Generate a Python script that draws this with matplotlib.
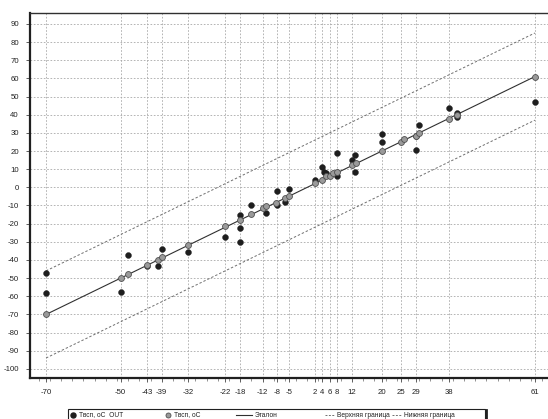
import matplotlib
matplotlib.use("Agg")
import matplotlib.pyplot as plt
from matplotlib.lines import Line2D
from matplotlib.patches import Rectangle
from matplotlib.ticker import MultipleLocator

plt.rcParams["font.family"] = ["Liberation Sans", "DejaVu Sans"]

# ---- data ----
x_ticks = [-70, -50, -43, -39, -32, -22, -18, -12, -8, -5, 2, 4, 6, 8, 12, 20, 25, 29, 38, 61]
y_ticks = list(range(-100, 91, 10))

ref_x = [-70, -50, -48, -43, -40, -39, -32, -22, -18, -15, -12, -11, -8.5, -6, -5,
         2, 4, 5, 6, 7, 8, 12, 13, 20, 25, 26, 29, 30, 38, 40, 61]
ref_y = [-70, -50, -47.5, -42.5, -40, -38.5, -31.5, -21.5, -18, -14.5, -11.5, -10.5, -8.5, -6, -5,
         2.3, 4, 6, 6.5, 7.8, 8.7, 12.5, 13.5, 20, 25, 26.5, 28.5, 30, 37.5, 40, 61]

out_x = [-70, -70, -50, -48, -43, -40, -39, -32, -22, -18, -18, -18, -15, -11, -8, -8,
         -5, -6, 2, 4, 4.5, 5, 8, 8, 12, 12.8, 12.8, 20, 20, 29, 29, 30, 38, 40, 40, 61]
out_y = [-47, -58, -57.5, -37, -43.5, -43.5, -34, -35.5, -27.5, -15, -22.5, -30, -10, -14, -2, -9.7,
         -1, -8, 4, 11, 8.7, 7.8, 6.3, 19, 15, 18, 8.7, 29.5, 25.2, 28, 20.5, 34.4, 43.6, 41, 39, 47]

line_x = [-70, 61]
etalon_y = [-70, 61]
upper_y = [-46, 85]
lower_y = [-94, 37]

names = ["Твсп, оС  OUT", "Твсп, оС", "Эталон", "Верхняя граница", "Нижняя граница"]

# ---- figure ----
W, H = 548, 419
fig = plt.figure(figsize=(W / 100, H / 100), dpi=100)
ax = fig.add_axes([30 / W, 41 / H, (W - 30) / W, (378 - 13) / H])

fs = 5.6
black = "#1e1e1e"
gray_face = "#9a9a9a"
gray_edge = "#505050"

ax.plot(line_x, upper_y, color="#707070", lw=0.7, ls=(0, (2.5, 2)), zorder=2)
ax.plot(line_x, lower_y, color="#707070", lw=0.7, ls=(0, (2.5, 2)), zorder=2)
ax.plot(line_x, etalon_y, color="#303030", lw=0.8, zorder=2)

ax.scatter(out_x, out_y, s=18, color=black, edgecolors=black, linewidths=0.3, zorder=3)
ax.scatter(ref_x, ref_y, s=18, color=gray_face, edgecolors=gray_edge, linewidths=0.6, zorder=4)

ax.set_xlim(-74.3, 64.5)
ax.set_ylim(-105, 96)
ax.set_xticks(x_ticks)
ax.set_yticks(y_ticks)
ax.set_xticklabels([str(v) for v in x_ticks], fontsize=fs, color="#222222")
ax.set_yticklabels([str(v) for v in y_ticks], fontsize=fs, color="#222222")
ax.xaxis.set_minor_locator(MultipleLocator(3))
ax.tick_params(axis="both", which="major", length=3, width=0.6, color="#444444", pad=5)
ax.tick_params(axis="x", which="minor", length=2, width=0.5, color="#666666")
ax.grid(True, which="major", color="#a8a8a8", lw=0.6, ls=(0, (2, 2)))
ax.set_axisbelow(True)

for side in ["left", "bottom"]:
    ax.spines[side].set_linewidth(1.6)
    ax.spines[side].set_color("#202020")
ax.spines["top"].set_linewidth(1.0)
ax.spines["top"].set_color("#303030")
ax.spines["right"].set_visible(False)

# ---- legend (manual, figure pixel coords) ----
def fx(p):
    return p / W

def fy(p):
    return 1 - p / H

fig.patches.append(Rectangle((fx(68), fy(425)), fx(417), 16 / H, transform=fig.transFigure,
                             facecolor="white", edgecolor="#202020", lw=0.8, zorder=5))
fig.lines.append(Line2D([fx(485.5), fx(485.5)], [fy(410), fy(419)], transform=fig.transFigure,
                        color="#202020", lw=2.0, zorder=6))
ly = fy(415)
fig.lines.append(Line2D([fx(72.7)], [ly], transform=fig.transFigure, marker="o", ms=3.6,
                        color=black, ls="none", zorder=6))
fig.lines.append(Line2D([fx(168)], [ly], transform=fig.transFigure, marker="o", ms=3.6,
                        markerfacecolor=gray_face, markeredgecolor=gray_edge, mew=0.6,
                        ls="none", zorder=6))
fig.lines.append(Line2D([fx(236), fx(252)], [ly, ly], transform=fig.transFigure,
                        color="#303030", lw=0.8, zorder=6))
fig.lines.append(Line2D([fx(325), fx(334)], [ly, ly], transform=fig.transFigure,
                        color="#707070", lw=0.7, ls=(0, (2, 1.5)), zorder=6))
fig.lines.append(Line2D([fx(392), fx(401)], [ly, ly], transform=fig.transFigure,
                        color="#707070", lw=0.7, ls=(0, (2, 1.5)), zorder=6))
for xpos, name in zip([79, 174, 255, 337, 404], names):
    fig.text(fx(xpos), ly, name, fontsize=4.8, va="center", ha="left", color="#222222", zorder=7)

fig.savefig("out.png", dpi=100)
